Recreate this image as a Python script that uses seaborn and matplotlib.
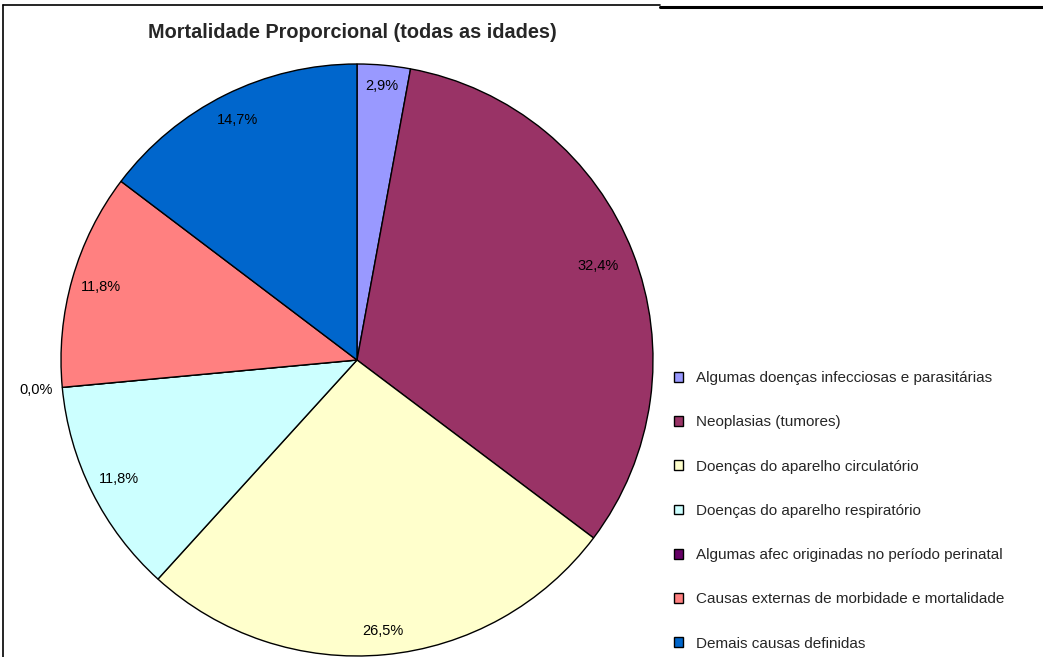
import matplotlib
matplotlib.use("Agg")
import numpy as np
import matplotlib.pyplot as plt
from matplotlib.lines import Line2D
import seaborn as sns

# Chart data
categories = [
    "Algumas doenças infecciosas e parasitárias",
    "Neoplasias (tumores)",
    "Doenças do aparelho circulatório",
    "Doenças do aparelho respiratório",
    "Algumas afec originadas no período perinatal",
    "Causas externas de morbidade e mortalidade",
    "Demais causas definidas",
]
values = [2.9, 32.4, 26.5, 11.8, 0.0, 11.8, 14.7]
colors = ["#9999FF", "#993366", "#FFFFCC", "#CCFFFF", "#660066", "#FF8080", "#0066CC"]
title = "Mortalidade Proporcional (todas as idades)"

# radial position of each percentage label (fraction of radius)
label_dist = [0.93, 0.875, 0.92, 0.9, 1.09, 0.9, 0.905]

sns.set_theme(style="white")
plt.rcParams["font.family"] = ["Liberation Sans", "DejaVu Sans"]

W, H = 1043, 657
fig = plt.figure(figsize=(W / 100, H / 100), dpi=100)

# Pie axes: centre ~(357, 360) px, radius ~296 px
cx, cy, r = 357, 360, 296
ax = fig.add_axes([(cx - r) / W, (H - cy - r) / H, 2 * r / W, 2 * r / H])

palette = sns.color_palette(colors)
wedges, texts, autotexts = ax.pie(
    values,
    colors=palette,
    startangle=90,
    counterclock=False,
    autopct=lambda p: f"{p:.1f}%".replace(".", ","),
    pctdistance=0.9,
    wedgeprops=dict(edgecolor="black", linewidth=1),
    textprops=dict(fontsize=10.5, color="black"),
    normalize=True,
)
ax.set_aspect("equal")
ax.set_xlim(-1, 1)
ax.set_ylim(-1, 1)

for w, t, d in zip(wedges, autotexts, label_dist):
    ang = np.deg2rad((w.theta1 + w.theta2) / 2)
    t.set_position((d * np.cos(ang), d * np.sin(ang)))

fig.text(352 / W, 1 - 32 / H, title, ha="center", va="center",
         fontsize=14.3, fontweight="bold")

handles = [
    plt.Rectangle((0, 0), 1, 1, facecolor=c, edgecolor="black", linewidth=1)
    for c in colors
]
fig.legend(
    handles, categories,
    loc="upper left",
    bbox_to_anchor=(668 / W, 1 - 365 / H),
    frameon=False,
    fontsize=11,
    handlelength=0.6,
    handleheight=0.6,
    handletextpad=0.8,
    labelspacing=1.98,
    borderaxespad=0,
)

# screenshot borders
fig.add_artist(Line2D([3 / W, 3 / W], [0, 1 - 5 / H], color="black", linewidth=1.2,
                      transform=fig.transFigure))
fig.add_artist(Line2D([3 / W, 660 / W], [1 - 5 / H, 1 - 5 / H], color="black",
                      linewidth=1.2, transform=fig.transFigure))
fig.add_artist(Line2D([660 / W, 1], [1 - 7 / H, 1 - 7 / H], color="black",
                      linewidth=2.2, transform=fig.transFigure))

plt.savefig("out.png", dpi=100)
plt.close()
